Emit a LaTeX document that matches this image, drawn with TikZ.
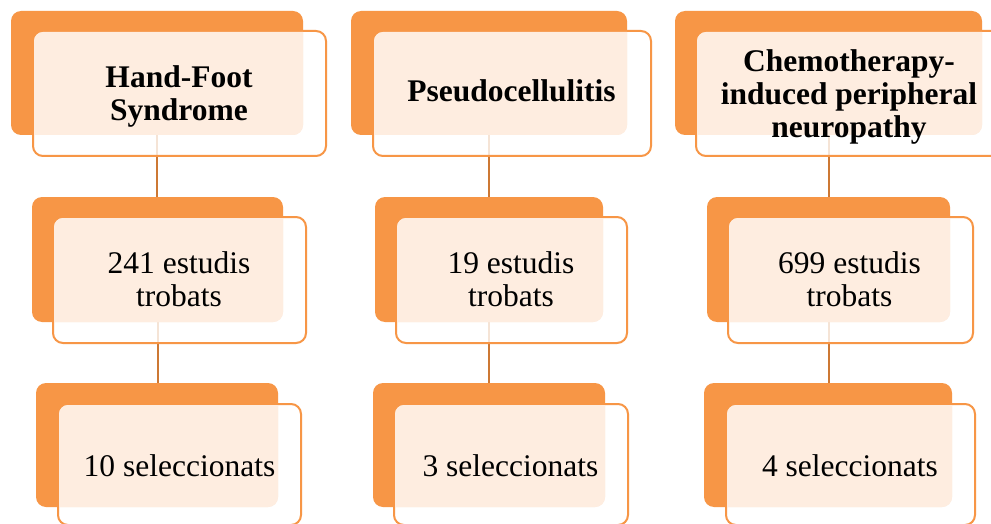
\documentclass[tikz,border=0pt]{standalone}
\usepackage{fontspec}
\setmainfont{Liberation Serif}
\definecolor{acc}{HTML}{F79646}
\definecolor{conn}{RGB}{205,120,52}
\colorlet{patt}{acc!17!white}
\tikzset{
  backbox/.style={fill=acc, draw=none, rounded corners=10pt, inner sep=0pt, outer sep=0pt},
  frontbox/.style={fill=white, fill opacity=0.8, draw=acc, draw opacity=1, line width=2pt, rounded corners=10pt, inner sep=0pt, outer sep=0pt},
  connline/.style={draw=conn, line width=2pt},
  titletext/.style={font=\fontsize{31.5}{33}\selectfont\bfseries, align=center, inner sep=0pt, text=black},
  bodytext/.style={font=\fontsize{31.5}{33}\selectfont, align=center, inner sep=0pt, text=black}
}
% back box: name, x1, y1, x2, y2 (pixels, y down)
\newcommand\mkback[5]{%
  \node[backbox, minimum width={#4pt-#2pt}, minimum height={#5pt-#3pt}] (#1) at ({(#2+#4)/2},{(#3+#5)/2}) {};}
% front box: name, x1, y1, x2, y2 (outer), then back box x2, y2 for overlap
\newcommand\mkfront[7]{%
  \node[frontbox, minimum width={#4pt-#2pt-2pt}, minimum height={#5pt-#3pt-2pt}] (#1) at ({(#2+#4)/2},{(#3+#5)/2}) {};
  \begin{scope}
    \clip[rounded corners=9pt] ({#2+2},{#3+2}) rectangle ({#4-2},{#5-2});
    \fill[patt, rounded corners=10pt] ({#2-20},{#3-20}) rectangle (#6,#7);
  \end{scope}}
\begin{document}
\begin{tikzpicture}[x=1pt,y=-1pt]
\clip (0,0) rectangle (991,524);
\fill[white] (0,0) rectangle (991,524);
% back boxes
\mkback{b11}{11}{11}{303}{135}
\mkback{b21}{351}{11}{627}{135}
\mkback{b31}{675}{11}{982}{135}
\mkback{b12}{32}{197}{283}{322}
\mkback{b22}{375}{197}{603}{322}
\mkback{b32}{707}{197}{950}{322}
\mkback{b13}{36}{383}{278}{507}
\mkback{b23}{373}{383}{605}{507}
\mkback{b33}{704}{383}{952}{507}
% connectors
\draw[connline] (b11.south) -- (b11.south |- b12.north);
\draw[connline] (b12.south) -- (b12.south |- b13.north);
\draw[connline] (b21.south) -- (b21.south |- b22.north);
\draw[connline] (b22.south) -- (b22.south |- b23.north);
\draw[connline] (b31.south) -- (b31.south |- b32.north);
\draw[connline] (b32.south) -- (b32.south |- b33.north);
% front boxes
\mkfront{f11}{32}{30}{327}{157}{303}{135}
\mkfront{f21}{372}{30}{652}{157}{627}{135}
\mkfront{f31}{695}{30}{1003}{157}{982}{135}
\mkfront{f12}{52}{216}{307}{344}{283}{322}
\mkfront{f22}{395}{216}{628}{344}{603}{322}
\mkfront{f32}{727}{216}{974}{344}{950}{322}
\mkfront{f13}{57}{403}{302}{526}{278}{507}
\mkfront{f23}{393}{403}{629}{526}{605}{507}
\mkfront{f33}{725}{403}{976}{526}{952}{507}
% texts
\node[titletext] (t11) at (179,96.2) {Hand-Foot\\Syndrome};
\node[titletext] (t21) at (511.5,91) {Pseudocellulitis};
\node[titletext] (t31) at (849,96.6) {Chemotherapy-\\induced peripheral\\neuropathy};
\node[bodytext] (t12) at (179,279.7) {241 estudis\\trobats};
\node[bodytext] (t22) at (511,279.7) {19 estudis\\trobats};
\node[bodytext] (t32) at (849.5,279.7) {699 estudis\\trobats};
\node[bodytext] (t13) at (179.5,466.2) {10 seleccionats};
\node[bodytext] (t23) at (510.5,466.2) {3 seleccionats};
\node[bodytext] (t33) at (850,466.2) {4 seleccionats};
\end{tikzpicture}
\end{document}
